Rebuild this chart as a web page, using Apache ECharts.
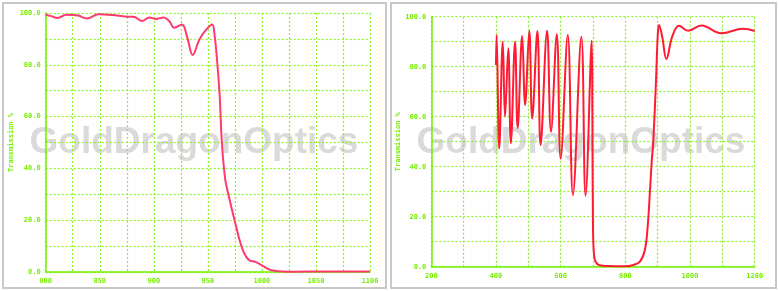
<!DOCTYPE html>
<html>
<head>
<meta charset="utf-8">
<script src="https://cdn.jsdelivr.net/npm/echarts@6/dist/echarts.min.js"></script>
<style>html,body{margin:0;padding:0;background:#fff;}#c{width:778px;height:291px;}</style>
</head>
<body>
<div id="c"></div>
<script>
// Left chart: wavelength (nm) and transmission (%)
const wlLeft = [800, 805, 811, 819, 830, 838, 849, 862, 875, 881, 889, 896, 902, 909, 914, 919, 926, 931, 936, 942, 947, 954, 956, 959, 961, 963, 966, 969, 975, 982, 988, 994, 1000, 1007, 1013, 1019, 1030, 1050, 1075, 1100];
const tLeft = [99.3, 98.8, 98.1, 99.3, 99.0, 97.9, 99.5, 99.2, 98.6, 98.6, 96.9, 98.3, 97.7, 98.3, 97.0, 94.3, 95.6, 90.5, 83.8, 89.6, 92.8, 95.6, 92.3, 79.3, 67.7, 49.7, 36, 30, 19.5, 8.8, 4.6, 3.9, 2.6, 0.9, 0.4, 0.2, 0.1, 0.2, 0.2, 0.2];

// Right chart
const wlRight = [400, 402, 410, 421, 428, 438, 446, 459, 467, 481, 490, 503, 512, 528, 538, 558, 570, 588, 600, 622, 638, 664, 677, 696, 698, 700, 703, 708, 720, 750, 800, 825, 845, 860, 869, 876, 882, 886, 895, 900, 904, 914, 927, 945, 966, 994, 1035, 1097, 1164, 1200];
const tRight = [80.7, 92.7, 47.3, 90, 60, 87.4, 49.4, 90, 55.4, 92.3, 64.7, 94.4, 59.3, 94.3, 48.7, 94.4, 54, 93, 43.3, 92.7, 28.7, 92, 28.4, 90.4, 60, 15, 5, 2, 0.6, 0.3, 0.2, 0.7, 2, 6.5, 16, 30, 43, 49, 75, 92, 96.7, 92, 83.1, 92, 96.4, 94.4, 96.5, 93.4, 95.2, 94.3];

// Tick settings
const xLeftTicks = {min: 800, max: 1100, step: 25, labelStep: 50};
const xRightTicks = {min: 200, max: 1200, step: 100, labelStep: 200};
const yTicks = {min: 0, max: 100, step: 10, labelStep: 20};
const yName = 'Transmission %';
const watermark = 'GoldDragonOptics';

const green = '#77f000';
const gridGreen = '#8cf22a';
const labelFont = {color: green, fontFamily: 'DejaVu Sans Mono', fontWeight: 'bold', fontSize: 7};

function xAxis(gi, t) {
  return {
    type: 'value', gridIndex: gi, min: t.min, max: t.max, interval: t.step,
    axisLine: {show: true, lineStyle: {color: green, width: 1.5}},
    axisTick: {show: false},
    axisLabel: Object.assign({margin: 6, formatter: v => (v % t.labelStep === 0 ? String(v) : '')}, labelFont),
    splitLine: {show: true, lineStyle: {color: gridGreen, type: [2, 2], width: 1.2}}
  };
}
function yAxis(gi, gap) {
  return {
    type: 'value', gridIndex: gi, min: yTicks.min, max: yTicks.max, interval: yTicks.step,
    name: yName, nameLocation: 'middle', nameGap: gap, nameRotate: 90,
    nameTextStyle: {color: green, fontFamily: 'DejaVu Sans Mono', fontWeight: 'bold', fontSize: 7},
    axisLine: {show: true, lineStyle: {color: green, width: 1.5}},
    axisTick: {show: false},
    axisLabel: Object.assign({margin: 5, formatter: v => (v % yTicks.labelStep === 0 ? v.toFixed(1) : '')}, labelFont),
    splitLine: {show: true, lineStyle: {color: gridGreen, type: [2, 2], width: 1.2}}
  };
}

const chart = echarts.init(document.getElementById('c'), null, {renderer: 'canvas'});
chart.setOption({
  animation: false,
  backgroundColor: '#fff',
  graphic: [
    {type: 'rect', z: -10, shape: {x: 3, y: 3, width: 383, height: 285}, style: {fill: '#fff', stroke: '#c8c8c8', lineWidth: 2}},
    {type: 'rect', z: -10, shape: {x: 391, y: 3, width: 385, height: 285}, style: {fill: '#fff', stroke: '#c8c8c8', lineWidth: 2}},
    {type: 'text', z: -5, x: 194, y: 143, style: {text: watermark, fill: '#dadada', font: 'bold 37px "Liberation Sans"', align: 'center', verticalAlign: 'middle'}},
    {type: 'text', z: -5, x: 581, y: 143, style: {text: watermark, fill: '#dadada', font: 'bold 37px "Liberation Sans"', align: 'center', verticalAlign: 'middle'}}
  ],
  grid: [
    {left: 45.7, top: 13, width: 324.3, height: 259},
    {left: 431.3, top: 16.7, width: 323.4, height: 250}
  ],
  xAxis: [xAxis(0, xLeftTicks), xAxis(1, xRightTicks)],
  yAxis: [yAxis(0, 31), yAxis(1, 30)],
  series: [
    {type: 'line', xAxisIndex: 0, yAxisIndex: 0, showSymbol: false, smooth: 0.4,
     data: wlLeft.map((w, i) => [w, tLeft[i]]), lineStyle: {color: '#ff3b6e', width: 2}},
    {type: 'line', xAxisIndex: 1, yAxisIndex: 1, showSymbol: false, smooth: 0.4,
     data: wlRight.map((w, i) => [w, tRight[i]]), lineStyle: {color: '#ff1b33', width: 2}}
  ]
});
</script>
</body>
</html>
